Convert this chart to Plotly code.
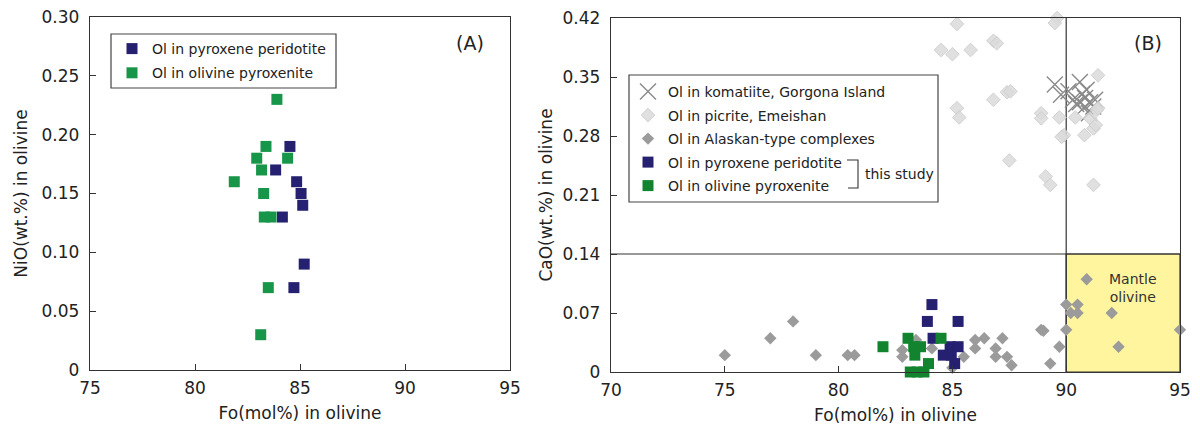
import plotly.graph_objects as go

# ---------------- data ----------------
# Panel A: NiO vs Fo (this study)
a_perid_fo = [84.52, 83.84, 84.84, 85.05, 85.13, 84.16, 85.2, 84.71]
a_perid_nio = [0.19, 0.17, 0.16, 0.15, 0.14, 0.13, 0.09, 0.07]
a_pyrox_fo = [83.9, 83.38, 82.94, 84.41, 83.17, 81.87, 83.27, 83.3, 83.62, 83.49, 83.13]
a_pyrox_nio = [0.23, 0.19, 0.18, 0.18, 0.17, 0.16, 0.15, 0.13, 0.13, 0.07, 0.03]

# Panel B: CaO vs Fo
kom_fo = [89.5, 90.6, 90.1, 90.9, 90.3, 90.6, 90.83, 91.05, 91.27, 90.83, 91.19, 90.44, 90.7, 89.77, 91.0]
kom_cao = [0.341, 0.344, 0.333, 0.335, 0.323, 0.320, 0.325, 0.320, 0.323, 0.315, 0.315, 0.318, 0.330, 0.329, 0.307]

pic_fo = [85.2, 84.5, 85.0, 85.8, 86.8, 86.95, 89.6, 89.5, 91.4, 85.2, 85.3, 86.8, 87.4, 87.55,
          88.9, 88.9, 89.7, 90.4, 89.9, 89.8, 90.8, 91.2, 91.05, 91.35, 91.4, 91.3, 87.5, 89.1, 89.3, 91.2]
pic_cao = [0.413, 0.382, 0.377, 0.382, 0.393, 0.390, 0.420, 0.414, 0.352, 0.313, 0.302, 0.323, 0.332, 0.333,
           0.307, 0.301, 0.302, 0.302, 0.281, 0.279, 0.281, 0.289, 0.301, 0.311, 0.313, 0.293, 0.251, 0.232, 0.222, 0.222]

ala_fo = [75.0, 77.0, 78.0, 79.0, 80.4, 80.7, 82.8, 82.8, 83.4, 84.1, 85.5, 86.0, 86.4, 86.0, 86.9, 87.2,
          86.9, 87.4, 87.6, 85.0, 88.9, 89.0, 89.7, 89.3, 90.0, 90.0, 90.2, 90.5, 90.5, 90.9, 92.0, 92.3, 95.0]
ala_cao = [0.02, 0.04, 0.06, 0.02, 0.02, 0.02, 0.026, 0.018, 0.038, 0.028, 0.018, 0.038, 0.04, 0.028, 0.028, 0.04,
           0.018, 0.018, 0.008, 0.005, 0.05, 0.049, 0.03, 0.01, 0.05, 0.08, 0.07, 0.08, 0.07, 0.11, 0.07, 0.03, 0.05]

b_perid_fo = [84.1, 83.9, 85.25, 84.15, 84.9, 85.25, 84.6, 84.95, 85.1]
b_perid_cao = [0.08, 0.06, 0.06, 0.04, 0.03, 0.03, 0.02, 0.02, 0.01]
b_pyrox_fo = [81.95, 83.05, 84.5, 83.3, 83.6, 83.35, 83.95, 83.15, 83.45, 83.75]
b_pyrox_cao = [0.03, 0.04, 0.04, 0.03, 0.03, 0.02, 0.01, 0.0, 0.0, 0.0]

a_xticks = [75, 80, 85, 90, 95]
a_yticks = [0, 0.05, 0.10, 0.15, 0.20, 0.25, 0.30]
a_yticktext = ["0", "0.05", "0.10", "0.15", "0.20", "0.25", "0.30"]
b_xticks = [70, 75, 80, 85, 90, 95]
b_yticks = [0, 0.07, 0.14, 0.21, 0.28, 0.35, 0.42]
b_yticktext = ["0", "0.07", "0.14", "0.21", "0.28", "0.35", "0.42"]

MANTLE_FO_MIN, MANTLE_FO_MAX = 90, 95
MANTLE_CAO_MAX = 0.14
B_X_RANGE = [70, 95]
B_Y_RANGE = [0, 0.42]

# ---------------- styling ----------------
FONT = "DejaVu Sans"
BLUE = "#25206f"
GREEN_A = "#17964a"
GREEN_B = "#12842f"
W, H = 1200, 428

def px_x(p):
    return p / W

def px_y(p):
    return 1 - p / H

fig = go.Figure()

# Panel A
fig.add_trace(go.Scatter(x=a_perid_fo, y=a_perid_nio, mode="markers", name="Ol in pyroxene peridotite",
                         marker=dict(symbol="square", size=11, color=BLUE, line=dict(width=0)),
                         xaxis="x", yaxis="y", legend="legend", legendgroup="a1", cliponaxis=False))
fig.add_trace(go.Scatter(x=a_pyrox_fo, y=a_pyrox_nio, mode="markers", name="Ol in olivine pyroxenite",
                         marker=dict(symbol="square", size=11, color=GREEN_A, line=dict(width=0)),
                         xaxis="x", yaxis="y", legend="legend", legendgroup="a2", cliponaxis=False))

# Panel B
fig.add_trace(go.Scatter(x=kom_fo, y=kom_cao, mode="markers", name="Ol in komatiite, Gorgona Island",
                         marker=dict(symbol="x-thin-open", size=16, color="#8a8a8a", line=dict(width=1.4, color="#8a8a8a")),
                         xaxis="x2", yaxis="y2", legend="legend2", legendgroup="b1", cliponaxis=False))
fig.add_trace(go.Scatter(x=pic_fo, y=pic_cao, mode="markers", name="Ol in picrite, Emeishan",
                         marker=dict(symbol="diamond", size=10.5, color="rgba(218,218,218,0.85)",
                                     line=dict(width=1, color="rgba(205,205,205,0.9)")),
                         xaxis="x2", yaxis="y2", legend="legend2", legendgroup="b2", cliponaxis=False))
fig.add_trace(go.Scatter(x=ala_fo, y=ala_cao, mode="markers", name="Ol in Alaskan-type complexes",
                         marker=dict(symbol="diamond", size=9.5, color="#9b9b9b", line=dict(width=0)),
                         xaxis="x2", yaxis="y2", legend="legend2", legendgroup="b3", cliponaxis=False))
fig.add_trace(go.Scatter(x=b_perid_fo, y=b_perid_cao, mode="markers", name="Ol in pyroxene peridotite",
                         marker=dict(symbol="square", size=11, color=BLUE, line=dict(width=0)),
                         xaxis="x2", yaxis="y2", legend="legend2", legendgroup="b4", cliponaxis=False))
fig.add_trace(go.Scatter(x=b_pyrox_fo, y=b_pyrox_cao, mode="markers", name="Ol in olivine pyroxenite",
                         marker=dict(symbol="square", size=11, color=GREEN_B, line=dict(width=0)),
                         xaxis="x2", yaxis="y2", legend="legend2", legendgroup="b5", cliponaxis=False))

axis_common = dict(showgrid=False, zeroline=False, showline=True, mirror=True, linecolor="#333",
                   linewidth=1.4, ticks="inside", ticklen=6, tickwidth=1.2, tickcolor="#333",
                   tickfont=dict(family=FONT, size=17, color="#222"), automargin=False)
title_font = dict(family=FONT, size=17, color="#222")

shapes = [
    # mantle olivine field
    dict(type="rect", xref="x2", yref="y2", x0=MANTLE_FO_MIN, x1=MANTLE_FO_MAX, y0=0, y1=MANTLE_CAO_MAX,
         fillcolor="#fff59e", line=dict(color="#333", width=1.2), layer="below"),
    dict(type="line", xref="x2", yref="y2", x0=B_X_RANGE[0], x1=B_X_RANGE[1], y0=MANTLE_CAO_MAX, y1=MANTLE_CAO_MAX,
         line=dict(color="#333", width=1.2), layer="below"),
    dict(type="line", xref="x2", yref="y2", x0=MANTLE_FO_MIN, x1=MANTLE_FO_MIN, y0=B_Y_RANGE[0], y1=B_Y_RANGE[1],
         line=dict(color="#333", width=1.2), layer="below"),
    # legend boxes
    dict(type="rect", xref="paper", yref="paper", x0=px_x(111), x1=px_x(336), y0=px_y(88), y1=px_y(34),
         line=dict(color="#444", width=1.2), fillcolor="rgba(0,0,0,0)"),
    dict(type="rect", xref="paper", yref="paper", x0=px_x(629), x1=px_x(938), y0=px_y(202), y1=px_y(75),
         line=dict(color="#444", width=1.2), fillcolor="rgba(0,0,0,0)"),
    # bracket for "this study"
    dict(type="path", xref="paper", yref="paper",
         path=f"M {px_x(847)},{px_y(160)} L {px_x(858)},{px_y(160)} L {px_x(858)},{px_y(188)} L {px_x(848)},{px_y(188)}",
         line=dict(color="#333", width=1.1)),
]

annotations = [
    dict(text="(A)", xref="paper", yref="paper", x=px_x(470), y=px_y(43), showarrow=False,
         font=dict(family=FONT, size=19, color="#222"), xanchor="center", yanchor="middle"),
    dict(text="(B)", xref="paper", yref="paper", x=px_x(1148), y=px_y(43), showarrow=False,
         font=dict(family=FONT, size=19, color="#222"), xanchor="center", yanchor="middle"),
    dict(text="Mantle<br>olivine", xref="x2", yref="y2", x=92.95, y=0.1, showarrow=False,
         font=dict(family=FONT, size=14, color="#333"), xanchor="center", yanchor="middle"),
    dict(text="this study", xref="paper", yref="paper", x=px_x(863), y=px_y(174), showarrow=False,
         font=dict(family=FONT, size=14, color="#222"), xanchor="left", yanchor="middle"),
]

legend_common = dict(bgcolor="rgba(0,0,0,0)", borderwidth=0, font=dict(family=FONT, size=14, color="#222"),
                     traceorder="grouped", xanchor="left", yanchor="top", itemclick=False)

fig.update_layout(
    width=W, height=H, margin=dict(l=0, r=0, t=0, b=0),
    paper_bgcolor="white", plot_bgcolor="white",
    font=dict(family=FONT, color="#222"),
    xaxis=dict(domain=[px_x(90), px_x(510)], range=[75, 95], tickvals=a_xticks, anchor="y", ticklabelstandoff=2,
               title=dict(text="Fo(mol%) in olivine", font=title_font, standoff=10), **axis_common),
    yaxis=dict(domain=[px_y(370), px_y(17)], range=[0, 0.30], tickvals=a_yticks, ticktext=a_yticktext, anchor="x",
               ticklabelstandoff=6,
               title=dict(text="NiO(wt.%) in olivine", font=title_font, standoff=9), **axis_common),
    xaxis2=dict(domain=[px_x(611), px_x(1180)], range=B_X_RANGE, tickvals=b_xticks, anchor="y2", ticklabelstandoff=2,
                title=dict(text="Fo(mol%) in olivine", font=title_font, standoff=10), **axis_common),
    yaxis2=dict(domain=[px_y(372), px_y(18)], range=B_Y_RANGE, tickvals=b_yticks, ticktext=b_yticktext, anchor="x2",
                ticklabelstandoff=6,
                title=dict(text="CaO(wt.%) in olivine", font=title_font, standoff=5), **axis_common),
    legend=dict(x=px_x(112), y=px_y(33), tracegroupgap=3, **legend_common),
    legend2=dict(x=px_x(628), y=px_y(76), tracegroupgap=2.3, **legend_common),
    shapes=shapes, annotations=annotations, showlegend=True,
)

fig.write_html("out.html")
